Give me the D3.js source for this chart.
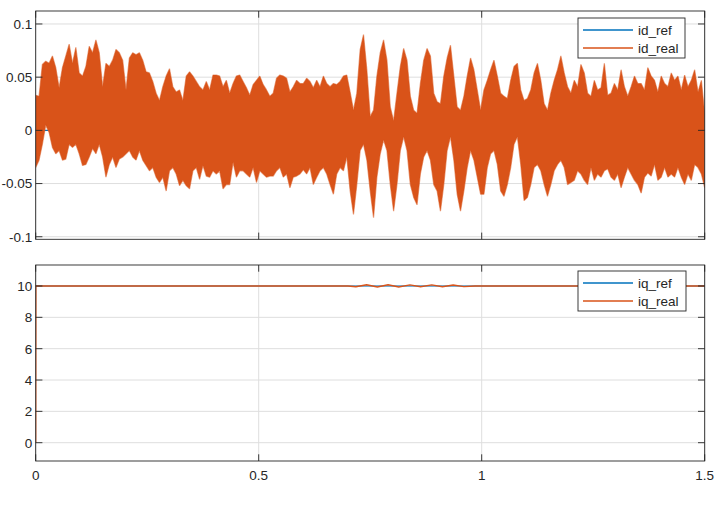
<!DOCTYPE html>
<html><head><meta charset="utf-8">
<script src="https://cdn.jsdelivr.net/npm/d3@7/dist/d3.min.js"></script>
<style>
html,body{margin:0;padding:0;background:#fff;}
svg text{font-family:"Liberation Sans",Arial,Helvetica,sans-serif;fill:#262626;}
</style></head>
<body>
<svg id="chart" width="720" height="509"></svg>
<script>
// ---- data ----
const sampleStep = 0.0075; // s between envelope samples
const idUpper = [
.033,.032,.062,.065,.063,.070,.059,.040,.059,.070,.081,.063,.078,.054,.051,.060,.079,.073,.085,.073,
.041,.063,.060,.066,.076,.073,.066,.038,.068,.073,.071,.073,.066,.055,.054,.046,.035,.028,.041,.051,
.058,.041,.036,.038,.028,.051,.055,.051,.046,.041,.038,.046,.038,.052,.052,.051,.041,.047,.035,.044,
.051,.052,.046,.040,.033,.043,.047,.051,.043,.038,.032,.035,.049,.052,.051,.049,.036,.041,.047,.044,
.044,.049,.046,.040,.047,.041,.051,.044,.041,.044,.043,.046,.051,.052,.036,.019,.035,.076,.090,.057,
.013,.019,.051,.073,.085,.066,.022,.009,.035,.060,.077,.066,.032,.019,.016,.044,.066,.077,.070,.035,
.027,.025,.051,.068,.080,.051,.022,.019,.032,.051,.068,.057,.038,.019,.038,.047,.057,.066,.051,.035,
.032,.030,.047,.060,.063,.038,.028,.030,.038,.054,.063,.047,.025,.019,.035,.047,.057,.070,.054,.041,
.035,.047,.041,.062,.054,.035,.032,.047,.038,.040,.063,.033,.035,.044,.038,.057,.041,.032,.041,.051,
.044,.044,.038,.059,.051,.047,.036,.051,.044,.041,.054,.047,.051,.038,.052,.041,.047,.057,.036,.047,
.016];
const idLower = [
-.035,-.028,-.013,.005,-.002,-.016,-.022,-.019,-.028,-.027,-.013,-.016,-.013,-.022,-.033,-.032,-.025,-.017,-.022,-.013,
-.025,-.044,-.032,-.025,-.035,-.027,-.025,-.022,-.019,-.025,-.028,-.019,-.028,-.033,-.038,-.035,-.044,-.049,-.044,-.057,
-.038,-.035,-.041,-.052,-.047,-.052,-.055,-.038,-.035,-.046,-.033,-.043,-.044,-.038,-.041,-.038,-.055,-.051,-.051,-.030,
-.044,-.038,-.038,-.041,-.044,-.035,-.049,-.038,-.041,-.044,-.043,-.043,-.038,-.035,-.044,-.041,-.054,-.044,-.043,-.041,
-.037,-.041,-.035,-.051,-.044,-.038,-.035,-.041,-.051,-.060,-.041,-.035,-.038,-.025,-.057,-.079,-.051,-.019,-.013,-.028,
-.057,-.082,-.044,-.022,-.009,-.019,-.051,-.076,-.051,-.019,-.006,-.019,-.051,-.063,-.070,-.041,-.025,-.019,-.028,-.051,
-.057,-.076,-.051,-.019,-.006,-.028,-.060,-.076,-.057,-.035,-.019,-.028,-.044,-.060,-.060,-.035,-.022,-.019,-.032,-.057,
-.062,-.051,-.035,-.013,-.006,-.032,-.066,-.063,-.051,-.035,-.032,-.038,-.051,-.062,-.051,-.038,-.032,-.028,-.035,-.051,
-.049,-.047,-.038,-.041,-.047,-.051,-.035,-.047,-.041,-.044,-.038,-.036,-.044,-.047,-.041,-.054,-.044,-.035,-.041,-.047,
-.051,-.059,-.044,-.040,-.043,-.032,-.047,-.044,-.035,-.044,-.041,-.044,-.035,-.044,-.051,-.041,-.047,-.032,-.035,-.041,
-.054];
const idRefT = [0, 1.5];
const idRefV = [0, 0];
const iqRefT = [0, 1.5];
const iqRefV = [10, 10];
const iqRealT = [0, 0.0004, 0.70, 0.718, 0.742, 0.766, 0.790, 0.814, 0.839, 0.863, 0.888, 0.912, 0.936, 0.960, 0.985, 1.5];
const iqRealV = [0, 10, 10, 9.95, 10.08, 9.94, 10.08, 9.94, 10.07, 9.95, 10.07, 9.95, 10.06, 9.96, 10, 10];
const xTicks = [0, 0.5, 1, 1.5];
const xTickLabels = ["0", "0.5", "1", "1.5"];
const idTicks = [-0.1, -0.05, 0, 0.05, 0.1];
const idTickLabels = ["-0.1", "-0.05", "0", "0.05", "0.1"];
const iqTicks = [0, 2, 4, 6, 8, 10];
const iqTickLabels = ["0", "2", "4", "6", "8", "10"];
const legendTop = ["id_ref", "id_real"];
const legendBottom = ["iq_ref", "iq_real"];

// ---- layout ----
const BLUE = "#0072BD", ORANGE = "#D95319", AXC = "#262626", GRID = "#dedede";
const svg = d3.select("#chart");
const left = 35.7, right = 704.7;
const x = d3.scaleLinear().domain([0, 1.5]).range([left, right]);

function panel(top, bottom, domain, ticks, labels, showX, id) {
  const y = d3.scaleLinear().domain(domain).range([bottom, top]);
  const g = svg.append("g");
  g.append("clipPath").attr("id", id).append("rect")
    .attr("x", left).attr("y", top).attr("width", right - left).attr("height", bottom - top);
  g.selectAll(".gx").data(xTicks).join("line")
    .attr("x1", d => x(d)).attr("x2", d => x(d)).attr("y1", top).attr("y2", bottom)
    .attr("stroke", GRID).attr("stroke-width", 1);
  g.selectAll(".gy").data(ticks).join("line")
    .attr("y1", d => y(d)).attr("y2", d => y(d)).attr("x1", left).attr("x2", right)
    .attr("stroke", GRID).attr("stroke-width", 1);
  const plot = g.append("g").attr("clip-path", `url(#${id})`);
  const frame = svg.append("g");
  frame.append("rect").attr("x", left).attr("y", top).attr("width", right - left).attr("height", bottom - top)
    .attr("fill", "none").attr("stroke", AXC).attr("stroke-width", 0.9);
  const tl = 6.7;
  xTicks.forEach(d => {
    frame.append("line").attr("x1", x(d)).attr("x2", x(d)).attr("y1", bottom).attr("y2", bottom - tl).attr("stroke", AXC).attr("stroke-width", 0.9);
    frame.append("line").attr("x1", x(d)).attr("x2", x(d)).attr("y1", top).attr("y2", top + tl).attr("stroke", AXC).attr("stroke-width", 0.9);
  });
  ticks.forEach(d => {
    frame.append("line").attr("y1", y(d)).attr("y2", y(d)).attr("x1", left).attr("x2", left + tl).attr("stroke", AXC).attr("stroke-width", 0.9);
    frame.append("line").attr("y1", y(d)).attr("y2", y(d)).attr("x1", right).attr("x2", right - tl).attr("stroke", AXC).attr("stroke-width", 0.9);
  });
  frame.selectAll(".yl").data(ticks).join("text")
    .attr("x", left - 3.5).attr("y", d => y(d)).attr("dy", "0.36em")
    .attr("text-anchor", "end").attr("font-size", 13.5).text((d, i) => labels[i]);
  if (showX) {
    frame.selectAll(".xl").data(xTicks).join("text")
      .attr("x", d => x(d)).attr("y", bottom + 19).attr("text-anchor", "middle")
      .attr("font-size", 13.5).text((d, i) => xTickLabels[i]);
  }
  return {y, plot, frame};
}

function legend(frame, x0, y0, w, h, names) {
  const lg = frame.append("g");
  lg.append("rect").attr("x", x0).attr("y", y0).attr("width", w).attr("height", h)
    .attr("fill", "#fff").attr("stroke", AXC).attr("stroke-width", 0.9);
  const colors = [BLUE, ORANGE];
  names.forEach((n, i) => {
    const yy = y0 + 12 + i * 18;
    lg.append("line").attr("x1", x0 + 5).attr("x2", x0 + 55).attr("y1", yy).attr("y2", yy)
      .attr("stroke", colors[i]).attr("stroke-width", 1.3);
    lg.append("text").attr("x", x0 + 60).attr("y", yy).attr("dy", "0.36em")
      .attr("font-size", 13.5).text(n);
  });
}

// top panel
const P1 = panel(11, 239.3, [-0.1024, 0.1122], idTicks, idTickLabels, false, "c1");
const lineRef1 = d3.line().x((d, i) => x(idRefT[i])).y(d => P1.y(d));
P1.plot.append("path").attr("d", lineRef1(idRefV)).attr("fill", "none").attr("stroke", BLUE).attr("stroke-width", 1.2);
// id_real: dense signal drawn as its min/max envelope per sample
const env = idUpper.map((u, i) => ({t: i * sampleStep, u, l: idLower[i]}));
const area = d3.area().x(d => x(d.t)).y0(d => P1.y(d.l)).y1(d => P1.y(d.u));
P1.plot.append("path").attr("d", area(env)).attr("fill", ORANGE)
  .attr("stroke", ORANGE).attr("stroke-opacity", 0.55).attr("stroke-width", 1.2).attr("stroke-linejoin", "bevel");
legend(P1.frame, 578, 18, 107, 40, legendTop);

// bottom panel
const P2 = panel(265, 461, [-1.168, 11.34], iqTicks, iqTickLabels, true, "c2");
const lineRef2 = d3.line().x((d, i) => x(iqRefT[i])).y(d => P2.y(d));
P2.plot.append("path").attr("d", lineRef2(iqRefV)).attr("fill", "none").attr("stroke", BLUE).attr("stroke-width", 1.2);
const lineReal2 = d3.line().x((d, i) => x(iqRealT[i])).y(d => P2.y(d));
P2.plot.append("path").attr("d", lineReal2(iqRealV)).attr("fill", "none").attr("stroke", ORANGE).attr("stroke-width", 1.4);
legend(P2.frame, 578, 271, 108, 40, legendBottom);
</script>
</body></html>
